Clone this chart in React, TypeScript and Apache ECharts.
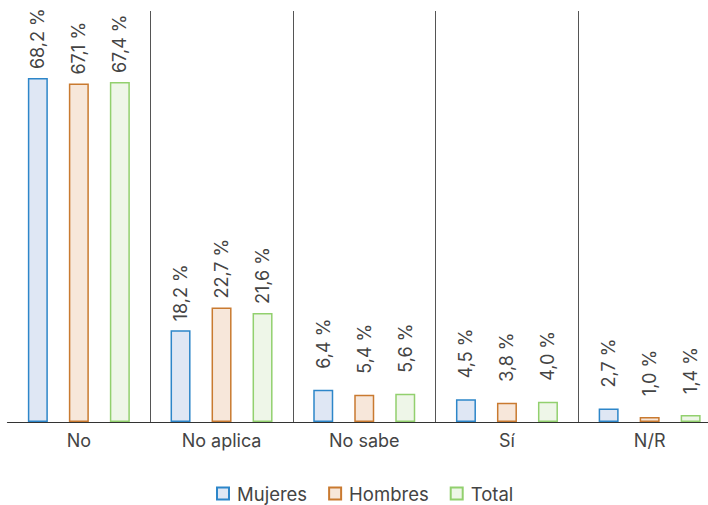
import React, { useEffect, useRef } from "react";
import * as echarts from "echarts";

const categories = ["No", "No aplica", "No sabe", "Sí", "N/R"];
const seriesNames = ["Mujeres", "Hombres", "Total"];
const mujeres = [68.2, 18.2, 6.4, 4.5, 2.7];
const hombres = [67.1, 22.7, 5.4, 3.8, 1.0];
const total = [67.4, 21.6, 5.6, 4.0, 1.4];

const fills = ["#dfe7f4", "#f7e7da", "#eef6e8"];
const borders = ["#2d86c9", "#c97a30", "#92d06e"];

const fmt = (v: number) => v.toFixed(1).replace(".", ",") + " %";
const FONT = "Inter, Roboto, sans-serif";

export default function App() {
  const ref = useRef<HTMLDivElement>(null);
  useEffect(() => {
    if (!ref.current) return;
    const chart = echarts.init(ref.current, null, { renderer: "svg" });
    const data = [mujeres, hombres, total];
    chart.setOption({
      animation: false,
      textStyle: { fontFamily: FONT },
      legend: {
        top: 479,
        left: 211,
        icon: "rect",
        itemWidth: 12,
        itemHeight: 12,
        itemGap: 21,
        textStyle: { fontSize: 18.5, color: "#444", fontFamily: FONT, padding: [0, 0, 0, 3] },
        data: seriesNames,
      },
      grid: { left: 7.5, right: 0, top: 11, bottom: 83 },
      xAxis: {
        type: "category",
        data: categories,
        axisLine: { lineStyle: { color: "#333", width: 1.2 } },
        axisTick: { show: false },
        axisLabel: { fontSize: 18, color: "#444", margin: 9, fontFamily: FONT },
        splitLine: {
          show: true,
          interval: (i: number) => i > 0 && i < 5,
          lineStyle: { color: "#555", width: 1 },
        },
      },
      yAxis: { type: "value", min: 0, max: 81.5, show: false, splitLine: { show: false } },
      series: seriesNames.map((name, k) => ({
        name,
        type: "bar",
        data: data[k].map((v) => ({
          value: v,
          label: { distance: v >= 10 ? 9 : 21 },
        })),
        barWidth: 20,
        barGap: "105%",
        itemStyle: { color: fills[k], borderColor: borders[k], borderWidth: 1.5 },
        label: {
          show: true,
          position: "top",
          rotate: 90,
          align: "left",
          verticalAlign: "middle",
          distance: 9,
          fontSize: 18,
          color: "#444",
          fontFamily: FONT,
          formatter: (p: any) => fmt(p.value),
        },
      })),
    });
    return () => chart.dispose();
  }, []);
  return (
    <div
      style={{
        position: "fixed",
        left: 0,
        top: 0,
        width: 708,
        height: 505,
        overflow: "hidden",
        background: "#fff",
      }}
    >
      <div ref={ref} style={{ width: 721, height: 505 }} />
    </div>
  );
}
